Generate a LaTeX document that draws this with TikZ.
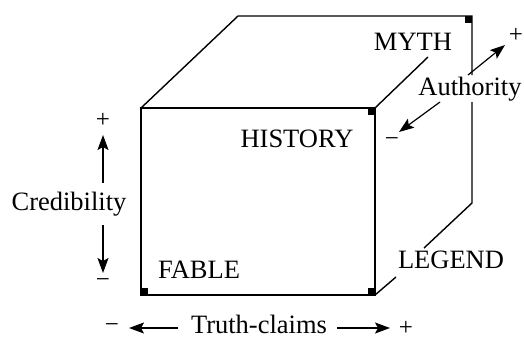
\documentclass[tikz,border=0pt]{standalone}
\usepackage{fontspec}
\setmainfont{Liberation Serif}
\usetikzlibrary{arrows.meta}
\begin{document}
\begin{tikzpicture}[x=1pt,y=-1pt,
  edge/.style={line width=1.4pt},
  corner/.style={fill=black},
  axis/.style={line width=1.2pt,-{Stealth[length=15pt,width=11pt,inset=3pt]}},
  word/.style={font=\fontsize{26.5}{30}\selectfont, inner sep=0pt, anchor=base},
  sign/.style={font=\fontsize{25}{28}\selectfont, inner sep=0pt},
]
\useasboundingbox (0,0) rectangle (524,338);

% corners of the box
\coordinate (FTL) at (141,108);
\coordinate (FTR) at (375,108);
\coordinate (FBL) at (141,295);
\coordinate (FBR) at (375,295);
\coordinate (BTL) at (238,16);
\coordinate (BTR) at (472,16);
\coordinate (BBR) at (472,203);

% gaps left in the edges for the labels
\coordinate (BVa) at (472,75);
\coordinate (BVb) at (472,102);
\coordinate (BDa) at (424,248);
\coordinate (BDb) at (396,277);
\coordinate (TDa) at (428,57);

% edges
\draw[edge] (FTL) -- (FTR) -- (FBR) -- (FBL) -- cycle;
\draw[edge] (FTL) -- (BTL) -- (BTR) -- (BVa);
\draw[edge] (BVb) -- (BBR) -- (BDa);
\draw[edge] (BDb) -- (FBR);
\draw[edge] (FTR) -- (TDa);

% right-angle corner marks
\fill[corner] (FTR) rectangle ++(-7,7);
\fill[corner] (BTR) rectangle ++(-7,7);
\fill[corner] (FBL) rectangle ++(7,-7);
\fill[corner] (FBR) rectangle ++(-7,-7);

% labels
\node[word] (myth) at (413,50) {MYTH};
\node[word] (authority) at (470,95) {Authority};
\node[word] (history) at (297,147) {HISTORY};
\node[word] (cred) at (69,210) {Credibility};
\node[word] (fable) at (199,278) {FABLE};
\node[word] (legend) at (451,268) {LEGEND};
\node[word] (truth) at (259,333) {Truth-claims};

% signs at the ends of the axes
\node[sign] (credplus) at (103,120) {+};
\node[sign] (credminus) at (103,283) {−};
\node[sign] (truthminus) at (112,328) {−};
\node[sign] (truthplus) at (406,328) {+};
\node[sign] (authplus) at (516,35) {+};
\node[sign] (authminus) at (392,142) {−};

% axis arrows
\coordinate (cUs) at (103,183); \coordinate (cUe) at (103,135);
\coordinate (cDs) at (103,225); \coordinate (cDe) at (103,273);
\coordinate (tLs) at (178,328); \coordinate (tLe) at (129,328);
\coordinate (tRs) at (337,328); \coordinate (tRe) at (390,328);
\coordinate (aUs) at (468,75);  \coordinate (aUe) at (505,45);
\coordinate (aDs) at (440,102); \coordinate (aDe) at (399,132);
\draw[axis] (cUs) -- (cUe);
\draw[axis] (cDs) -- (cDe);
\draw[axis] (tLs) -- (tLe);
\draw[axis] (tRs) -- (tRe);
\draw[axis] (aUs) -- (aUe);
\draw[axis] (aDs) -- (aDe);
\end{tikzpicture}
\end{document}
